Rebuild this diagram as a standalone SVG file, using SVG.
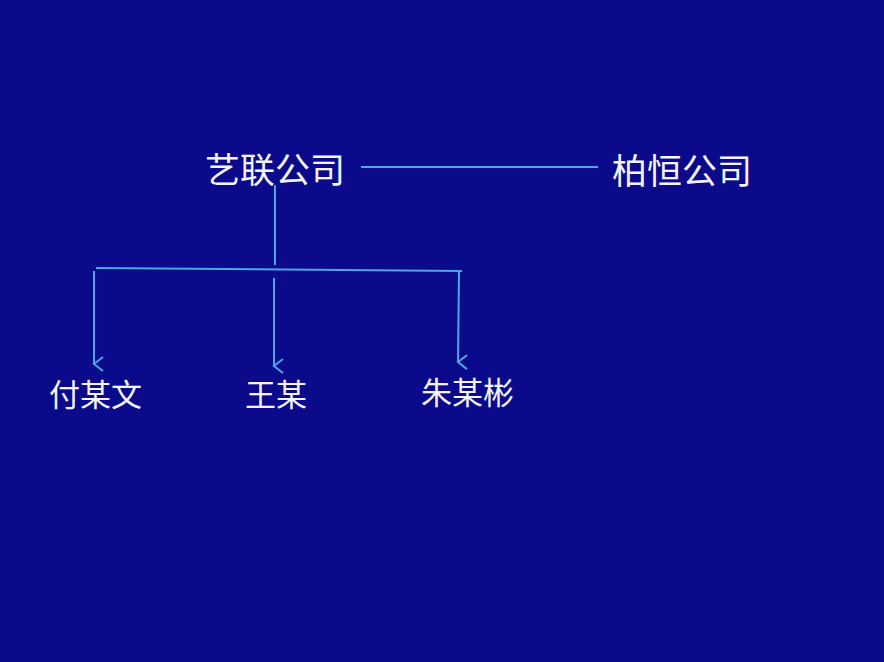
<svg xmlns="http://www.w3.org/2000/svg" width="884" height="662" viewBox="0 0 884 662">
<defs>
<style>
.t{font-family:"Noto Sans CJK SC","Liberation Sans",sans-serif;fill:#f4f4ff}
.big{font-size:35px}
.sm{font-size:31px}
.c{stroke:#4aa8e0;stroke-width:2;fill:none}
</style>
<marker id="a" markerWidth="16" markerHeight="16" refX="8" refY="13" orient="auto" markerUnits="userSpaceOnUse">
<path d="M1,4 L8,13 L15,4" fill="none" stroke="#4aa8e0" stroke-width="2"/>
</marker>
</defs>
<rect width="884" height="662" fill="#0a0a8a"/>
<g id="connectors">
<line class="c" x1="361" y1="167" x2="598" y2="167"/>
<line class="c" x1="275" y1="185" x2="275" y2="265"/>
<line class="c" x1="96" y1="268" x2="462" y2="271"/>
<line class="c" x1="94" y1="271" x2="94" y2="364" marker-end="url(#a)"/>
<line class="c" x1="274" y1="278" x2="274" y2="366" marker-end="url(#a)"/>
<line class="c" x1="459" y1="272" x2="458" y2="362" marker-end="url(#a)"/>
</g>
<g id="yilian"><text class="t big" x="205" y="183">艺联公司</text></g>
<g id="baiheng"><text class="t big" x="612" y="184">柏恒公司</text></g>
<g id="fu"><text class="t sm" x="49" y="406">付某文</text></g>
<g id="wang"><text class="t sm" x="245" y="406">王某</text></g>
<g id="zhu"><text class="t sm" x="421" y="404">朱某彬</text></g>
</svg>
